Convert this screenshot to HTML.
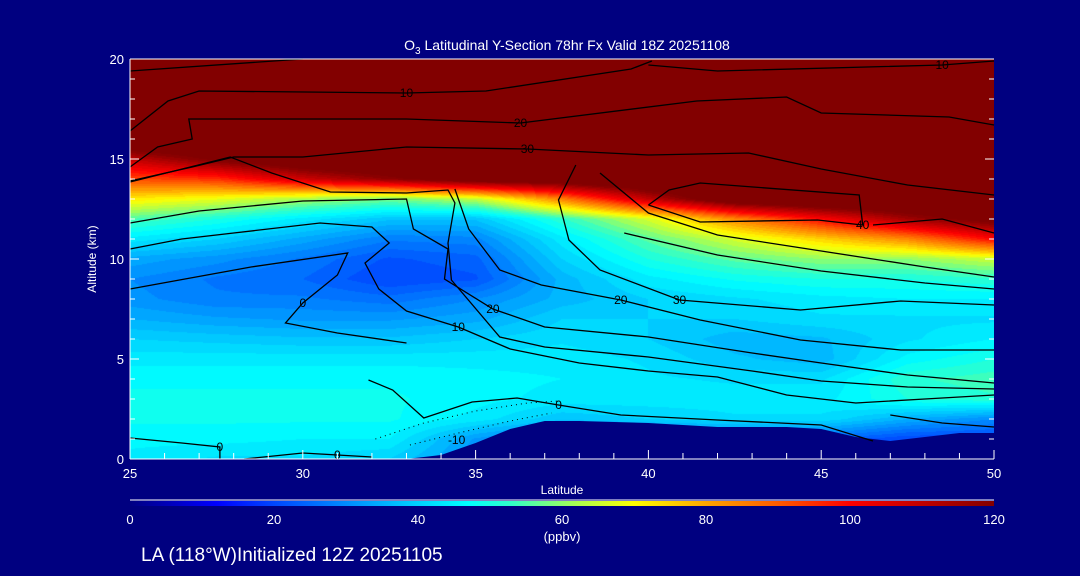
<!DOCTYPE html>
<html><head><meta charset="utf-8">
<style>
html,body{margin:0;padding:0;background:#000080;}
#wrap{position:relative;width:1080px;height:576px;background:#000080;overflow:hidden;font-family:"Liberation Sans","DejaVu Sans",sans-serif;color:#fff;}
svg{position:absolute;left:0;top:0;}
canvas{position:absolute;left:130px;top:59px;}
</style></head>
<body>
<div id="wrap">
<canvas id="cv" width="864" height="400"></canvas>
<svg id="sv" width="1080" height="576"></svg>
</div>
<script>
// ---- data ----
const lats = [25,27.5,30,32.5,35,37.5,40,42.5,45,47.5,50];
const alts = [0,1,2,3,4,5,6,7,8,9,10,11,12,13,14,15,16,17,18,19,20];
const o3Rows = [
[44,42,42,40,30,20,20,20,20,20,20],
[46,46,45,45,32,25,25,25,25,20,20],
[48,48,48,48,44,38,40,42,42,35,30],
[48,48,48,48,46,44,44,44,44,50,52],
[47,47,47,47,46,45,43,42,42,52,54],
[44,44,44,44,44,44,42,38,36,46,50],
[40,39,38,38,40,42,40,36,37,42,45],
[35,33,32,32,34,40,40,40,42,42,42],
[31,28,28,26,30,36,40,42,44,45,45],
[30,27,25,20,22,36,44,48,50,50,52],
[34,31,27,22,24,40,50,56,60,60,65],
[44,40,34,28,29,44,56,66,75,84,100],
[55,50,44,38,38,52,66,84,100,115,125],
[72,68,62,58,64,85,110,130,135,135,135],
[92,95,108,118,128,130,135,135,135,135,135],
[110,122,132,135,135,135,135,135,135,135,135],
[135,135,135,135,135,135,135,135,135,135,135],
[135,135,135,135,135,135,135,135,135,135,135],
[135,135,135,135,135,135,135,135,135,135,135],
[135,135,135,135,135,135,135,135,135,135,135],
[135,135,135,135,135,135,135,135,135,135,135]];
const terrainLat = [25,30,33,34,35,36,37,38,40,42,44,45,46,47,48,49,50];
const terrainAlt = [0,0,0,0.2,0.8,1.5,1.9,1.9,1.8,1.6,1.6,1.5,1.1,0.9,1.1,1.3,1.3];
const xTicks = [25,30,35,40,45,50];
const yTicks = [0,5,10,15,20];
const cbTicks = [0,20,40,60,80,100,120];
const contours = [
 {v:"",lat:[25,30],alt:[19.4,20]},
 {v:"10",lat:[25,26.1,27,33,35.3,39.5,40.1],alt:[16.4,17.9,18.4,18.3,18.4,19.5,19.9]},
 {v:"10",lat:[40,42,48.5,50],alt:[19.7,19.4,19.7,19.9]},
 {v:"20",lat:[25,25.8,26.8,26.7,33,36.3,41.4,44,45,48.7,50],alt:[14.6,15.6,16,17,17,16.8,17.9,18.1,17.3,17.1,16.7]},
 {v:"30",lat:[25,26.8,28,30,33,36.5,40,42.9,45,47.5,50],alt:[13.9,14.6,15.1,15.1,15.6,15.5,15.2,15.3,14.5,13.7,13.2]},
 {v:"",lat:[25,27.9,29.1,30.8,33,34.2,34.4,34.2,34.3,35.7,37,40,43,45,47.5,50],alt:[13.85,15.1,14.3,13.35,13.3,13.45,12.8,10.8,8.95,6.1,5.6,5.1,4.4,3.9,3.6,3.5]},
 {v:"20",lat:[25,27,30,33,33.2,34.2,34.1,35.5,37,40,43,45,47.5,50],alt:[11.8,12.4,12.9,13,11.5,10.5,9,7.5,6.6,6.1,5.3,4.8,4.2,3.8]},
 {v:"10",lat:[25,26.5,28,30.5,32,32.5,31.8,32.2,33,34.5,36,38,40,42,44,46,48,50],alt:[10.5,11,11.3,11.8,11.6,10.8,9.8,8.5,7.4,6.6,5.5,4.8,4.4,4.1,3.2,2.8,3,3.2]},
 {v:"0",lat:[25,28.5,31.3,31,30,29.5,31,33],alt:[8.5,9.6,10.3,9.2,7.8,6.8,6.3,5.8]},
 {v:"0",lat:[25,26.5,27.6,27.6],alt:[1.05,0.8,0.6,0]},
 {v:"0",lat:[28.3,30,31,32],alt:[0,0.3,0.2,0.1]},
 {v:"0",lat:[31.9,32.6,33.5,34.9,36.2,37.4,39.2,42,45,46.5],alt:[3.95,3.45,2.05,2.85,3.05,2.7,2.2,1.95,1.7,0.9]},
 {v:"40",lat:[40,40.6,41.5,46.1,46.2,44.9,41.5,40],alt:[12.7,13.45,13.8,13.2,11.7,11.95,11.85,12.7]},
 {v:"30",lat:[37.9,37.4,37.7,38.6,40.9,44.4,47.3,50],alt:[14.7,12.95,10.95,9.45,7.95,7.45,7.9,7.7]},
 {v:"20",lat:[34.4,34.8,35.7,36.9,39.2,41.5,44.4,47.3,50],alt:[13.5,11.5,9.45,8.7,7.95,6.95,5.95,5.45,5.45]},
 {v:"",lat:[38.6,40,42,45,48,50],alt:[14.3,12.3,11.2,10.4,9.6,9.1]},
 {v:"",lat:[39.3,42,45,48,50],alt:[11.3,10.2,9.4,8.8,8.5]},
 {v:"",lat:[46.5,48.5,50],alt:[11.7,12,11.3]},
 {v:"",lat:[47,48.5,50],alt:[2.2,1.8,1.6]}
];
// ---- axes ----
const X0=130,X1=994,Y0=459,Y1=59;
const xs = lat => X0 + (lat-25)/(50-25)*(X1-X0);
const ys = alt => Y0 - alt/20*(Y0-Y1);
const stops=[[0,[0,0,130]],[12,[0,0,255]],[20,[0,70,255]],[30,[0,140,255]],[40,[0,210,255]],[47,[0,255,255]],[53,[50,255,200]],[62,[170,255,80]],[70,[255,255,0]],[80,[255,165,0]],[90,[255,90,0]],[100,[255,0,0]],[120,[130,0,0]]];
function cmap(v){
  if(v<=0)return stops[0][1];
  for(let i=1;i<stops.length;i++){ if(v<=stops[i][0]){const a=stops[i-1],b=stops[i],t=(v-a[0])/(b[0]-a[0]);return [0,1,2].map(k=>a[1][k]+(b[1][k]-a[1][k])*t);} }
  return stops[stops.length-1][1];
}
function field(lat,alt){
  let fi=(lat-25)/2.5, fj=alt;
  let i=Math.min(Math.floor(fi),lats.length-2), j=Math.min(Math.floor(fj),alts.length-2);
  let tx=fi-i, ty=fj-j;
  const r=o3Rows;
  return r[j][i]*(1-tx)*(1-ty)+r[j][i+1]*tx*(1-ty)+r[j+1][i]*(1-tx)*ty+r[j+1][i+1]*tx*ty;
}
// ---- heat field (banded like the source) ----
const cv=document.getElementById('cv'),ctx=cv.getContext('2d');
const img=ctx.createImageData(864,400);
for(let py=0;py<400;py++){for(let px=0;px<864;px++){
  const lat=25+(px+0.5)/864*25, alt=20-(py+0.5)/400*20;
  const v=Math.floor(field(lat,alt)/2.5)*2.5+1.25;
  const c=cmap(v); const k=(py*864+px)*4;
  img.data[k]=c[0];img.data[k+1]=c[1];img.data[k+2]=c[2];img.data[k+3]=255;}}
ctx.putImageData(img,0,0);
// ---- svg ----
const NS='http://www.w3.org/2000/svg', sv=document.getElementById('sv');
function mk(tag,attrs,parent){const e=document.createElementNS(NS,tag);for(const k in attrs)e.setAttribute(k,attrs[k]);(parent||sv).appendChild(e);return e;}
// terrain
let tp=terrainLat.map((l,i)=>xs(l)+','+ys(terrainAlt[i])).join(' ')+' '+xs(50)+','+Y0+' '+xs(25)+','+Y0;
const terr=mk('polygon',{points:tp,fill:'#000080'});


// contours
contours.forEach((c,ci)=>{
  const pts=c.lat.map((l,i)=>xs(l).toFixed(1)+','+ys(c.alt[i]).toFixed(1)).join(' ');
  const pl=mk('polyline',{points:pts,fill:'none',stroke:'#000','stroke-width':1.3});
  
  
  if(c.v){const m=Math.floor(c.lat.length/2);
    const t=mk('text',{x:xs(c.lat[m]),y:ys(c.alt[m])+4,'font-size':12,fill:'#000','text-anchor':'middle'});
    t.textContent=c.v;
    
    }
});
// dotted -10 near terrain
[[ [32.1,33.5,35,36.5,37.4],[1.0,1.8,2.4,2.8,2.9] ],[ [33.1,34.5,36,37.2],[0.7,1.3,1.9,2.3] ]].forEach(d=>{
  const pl=mk('polyline',{points:d[0].map((l,i)=>xs(l)+','+ys(d[1][i])).join(' '),fill:'none',stroke:'#000','stroke-width':1,'stroke-dasharray':'1 4'});
  
  
});
const nl=mk('text',{x:xs(34.2),y:ys(0.95)+4,'font-size':12,fill:'#000'});nl.textContent='-10';


// axes lines
const ax=mk('line',{x1:X0,x2:X1,y1:Y0,y2:Y0,stroke:'#fff'});


const ay=mk('line',{x1:X0,x2:X0,y1:Y0,y2:Y1,stroke:'#fff'});


mk('line',{x1:X0,x2:X1,y1:Y1,y2:Y1,stroke:'#fff'});
for(let l=25;l<=50;l++){const big=(l%5===0);
  mk('line',{x1:xs(l),x2:xs(l),y1:Y0,y2:Y0-(big?9:6),stroke:'#fff'});}
for(let a=0;a<=20;a++){const big=(a%5===0);
  mk('line',{x1:X0,x2:X0+(big?9:5),y1:ys(a),y2:ys(a),stroke:'#fff'});
  mk('line',{x1:X1,x2:X1-(big?9:5),y1:ys(a),y2:ys(a),stroke:'#fff'});}
xTicks.forEach(l=>{const t=mk('text',{x:xs(l),y:478,'font-size':13,fill:'#fff','text-anchor':'middle'});t.textContent=l;
  
  });
yTicks.forEach(a=>{const t=mk('text',{x:124,y:ys(a)+5,'font-size':13,fill:'#fff','text-anchor':'end'});t.textContent=a;
  
  });
const xt=mk('text',{x:562,y:494,'font-size':12,fill:'#fff','text-anchor':'middle'});xt.textContent='Latitude';


const yt=mk('text',{x:96,y:259,'font-size':12,fill:'#fff','text-anchor':'middle',transform:'rotate(-90 96 259)'});yt.textContent='Altitude (km)';


const ti=mk('text',{x:567,y:50,'font-size':14,fill:'#fff','text-anchor':'middle'});
ti.innerHTML='O<tspan dy="4" font-size="10">3</tspan><tspan dy="-4"> Latitudinal Y-Section 78hr  Fx Valid 18Z 20251108</tspan>';


// colorbar
const defs=mk('defs',{});const lg=mk('linearGradient',{id:'cbg',x1:0,x2:1,y1:0,y2:0},defs);
stops.forEach(s=>mk('stop',{offset:s[0]/120,'stop-color':'rgb('+s[1].map(Math.round).join(',')+')'},lg));
mk('line',{x1:X0,x2:X1,y1:500,y2:500,stroke:'#fff'});
const cb=mk('rect',{x:X0,y:501,width:X1-X0,height:5,fill:'url(#cbg)'});


cbTicks.forEach(v=>{const t=mk('text',{x:X0+v/120*(X1-X0),y:524,'font-size':13,fill:'#fff','text-anchor':'middle'});t.textContent=v;
  
  });
const un=mk('text',{x:562,y:541,'font-size':13,fill:'#fff','text-anchor':'middle'});un.textContent='(ppbv)';


const ft=mk('text',{x:141,y:561,'font-size':19,fill:'#fff'});ft.textContent='LA (118°W)Initialized 12Z 20251105';


</script>
</body></html>
